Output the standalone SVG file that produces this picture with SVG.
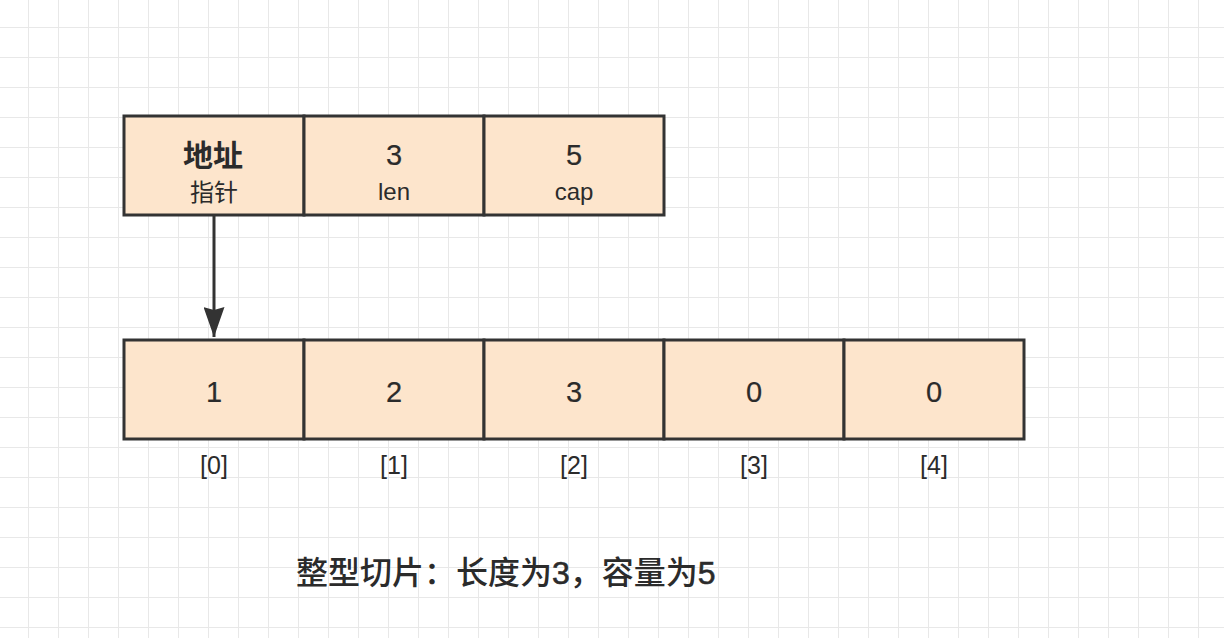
<svg xmlns="http://www.w3.org/2000/svg" width="1224" height="638" viewBox="0 0 1224 638">
<defs>
<pattern id="grid" width="30" height="30" patternUnits="userSpaceOnUse" x="-1" y="-2">
<path d="M30 0V30M0 30H30" fill="none" stroke="#e8e8e8" stroke-width="2"/>
</pattern>
<marker id="arr" viewBox="0 0 30 21" refX="30" refY="10.5" markerWidth="30" markerHeight="21" markerUnits="userSpaceOnUse" orient="auto">
<path d="M0 0L30 10.5L0 21L3 10.5Z" fill="#333"/>
</marker>
</defs>
<style>
.cell{fill:#fde5cc;stroke:#333;stroke-width:3}
.t{font-family:"Liberation Sans","Noto Sans CJK SC",sans-serif;fill:#2b2b2b;text-anchor:middle}
.num{font-size:29px;stroke:#2b2b2b;stroke-width:0.2}
.cjk{font-family:"Noto Sans CJK SC",sans-serif}
.small{font-size:24px}
.d{stroke:#2b2b2b;stroke-width:0.6}
</style>
<rect width="1224" height="638" fill="#fff"/>
<rect width="1224" height="638" fill="url(#grid)"/>
<g id="header">
<g id="ptr"><rect class="cell" x="124" y="116" width="180" height="99"/>
<text class="t cjk" x="213" y="166" font-size="30" font-weight="bold">地址</text><text class="t cjk small" x="214" y="201">指针</text></g>
<g id="len"><rect class="cell" x="304" y="116" width="180" height="99"/>
<text class="t num" x="394" y="165" font-size="30">3</text><text class="t small" x="394" y="200">len</text></g>
<g id="cap"><rect class="cell" x="484" y="116" width="180" height="99"/>
<text class="t num" x="574" y="165" font-size="30">5</text><text class="t small" x="574" y="200">cap</text></g>
</g>
<g id="array">
<g id="a0"><rect class="cell" x="124" y="340" width="180" height="99"/><text class="t num" x="214" y="402">1</text></g>
<g id="a1"><rect class="cell" x="304" y="340" width="180" height="99"/><text class="t num" x="394" y="402">2</text></g>
<g id="a2"><rect class="cell" x="484" y="340" width="180" height="99"/><text class="t num" x="574" y="402">3</text></g>
<g id="a3"><rect class="cell" x="664" y="340" width="180" height="99"/><text class="t num" x="754" y="402">0</text></g>
<g id="a4"><rect class="cell" x="844" y="340" width="180" height="99"/><text class="t num" x="934" y="402">0</text></g>
</g>
<g id="indices">
<text class="t" font-size="25" x="214" y="474">[0]</text>
<text class="t" font-size="25" x="394" y="474">[1]</text>
<text class="t" font-size="25" x="574" y="474">[2]</text>
<text class="t" font-size="25" x="754" y="474">[3]</text>
<text class="t" font-size="25" x="934" y="474">[4]</text>
</g>
<g id="connectors">
<line x1="214" y1="216" x2="214" y2="337" stroke="#333" stroke-width="3" marker-end="url(#arr)"/>
</g>
<g id="caption">
<text class="t" x="296" y="584" font-size="32" font-weight="500" style="text-anchor:start">整型切片：长度为<tspan class="d">3</tspan>，容量为<tspan class="d">5</tspan></text>
</g>
</svg>
